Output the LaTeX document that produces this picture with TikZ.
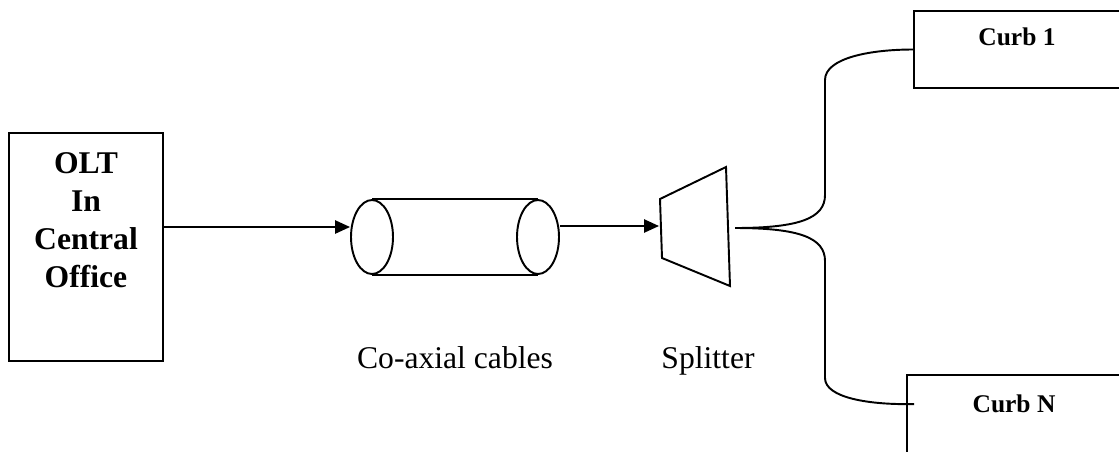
\documentclass[tikz,border=0pt]{standalone}
\usepackage{fontspec}
\setmainfont{Liberation Serif}
\usetikzlibrary{shapes.geometric,arrows.meta,calc}
\begin{document}
\begin{tikzpicture}[x=0.02cm,y=-0.02cm]
\tikzset{boite/.style={draw, line width=1.1pt, inner sep=0pt},
  bout/.style={draw, ellipse, line width=1.1pt, minimum width=0.84cm, minimum height=1.48cm, inner sep=0pt},
  fil/.style={line width=1.1pt},
  fleche/.style={fil, -{Triangle[length=8.5pt,width=7.5pt]}},
  gras/.style={font=\fontsize{18}{21.6}\selectfont\bfseries, align=center, inner sep=0pt},
  petitgras/.style={font=\fontsize{14.5}{17}\selectfont\bfseries, inner sep=0pt},
  legende/.style={font=\fontsize{18}{21.6}\selectfont, inner sep=0pt}}
\useasboundingbox (0,0) rectangle (1119,451);
\clip (0,0) rectangle (1119,451);
% central office
\node[boite, minimum width=3.08cm, minimum height=4.56cm] (olt) at (86,247) {};
\node[gras, anchor=north] (olttxt) at (86,152) {OLT\\In\\Central\\Office};
\coordinate (ligne) at (0,227);
% coax cable
\node[bout] (cabA) at (372,237) {};
\node[bout] (cabB) at (538,237) {};
\draw[fil] (cabA.north) -- (cabB.north);
\draw[fil] (cabA.south) -- (cabB.south);
\draw[fleche] (olt.east |- ligne) -- (cabA.west |- ligne);
% splitter
\draw[fil] (660,199) -- (726,167) -- (730,286) -- (662,258) -- cycle;
\coordinate (splin) at (659,226);
\coordinate (splout) at (735,228);
\draw[fleche] (cabB.east |- splin) -- (splin);
% curbs
\node[boite, minimum width=4.32cm, minimum height=1.54cm] (curb1) at (1022,49.5) {};
\node[petitgras, anchor=base] (curb1txt) at (1017,45) {Curb 1};
\node[boite, minimum width=4.46cm, minimum height=1.9cm] (curbN) at (1018.5,422.5) {};
\node[petitgras, anchor=base] (curbNtxt) at (1014,412) {Curb N};
\draw[fil] (splout) .. controls (800,228) and (825,218) .. (825,195) -- (825,80)
  .. controls (825,58) and (870,49.5) .. (curb1.west);
\draw[fil] (splout) .. controls (800,228) and (825,238) .. (825,261) -- (825,378)
  .. controls (825,398) and (870,405) .. ($(curbN.north west)+(8,30)$);
% labels
\node[legende, anchor=base] (cablab) at (455,368) {Co-axial cables};
\node[legende, anchor=base] (spllab) at (708,368) {Splitter};
\end{tikzpicture}
\end{document}
